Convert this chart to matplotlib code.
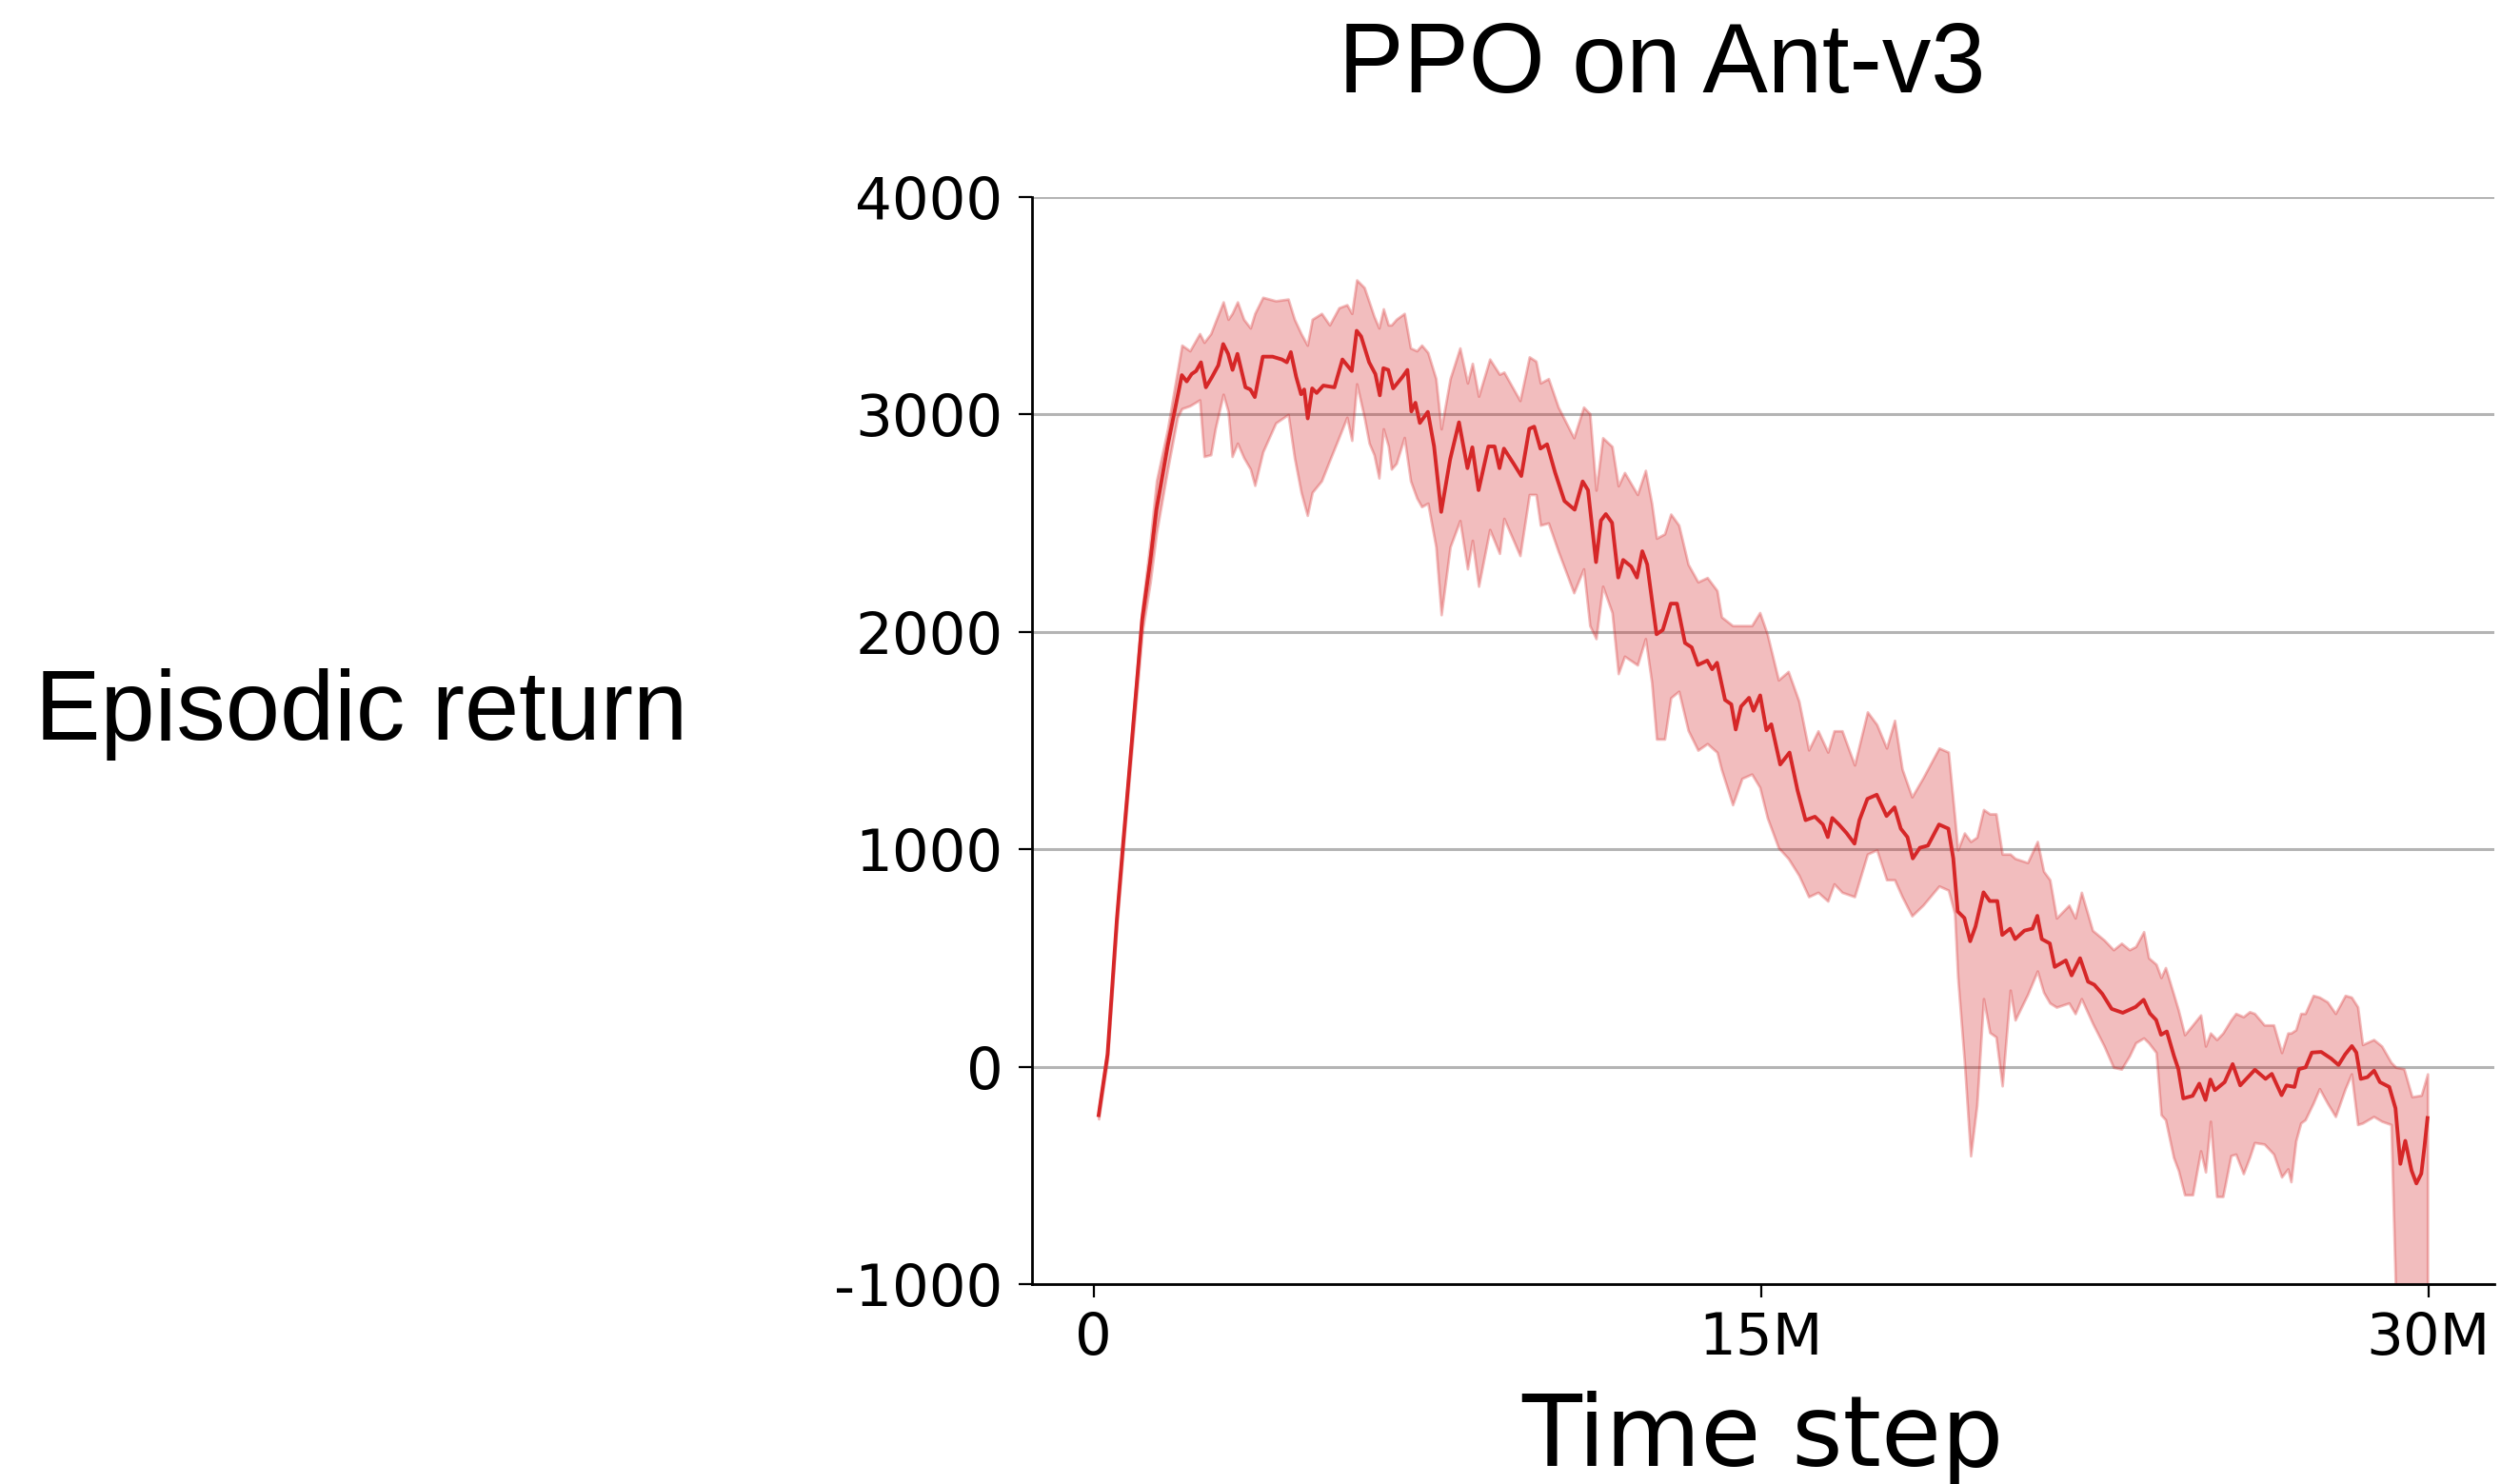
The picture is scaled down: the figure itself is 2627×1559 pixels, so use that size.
import matplotlib
matplotlib.use("Agg")
import matplotlib.pyplot as plt
import numpy as np

# mean episodic return (time step in millions)
mean_t = [0.11, 0.31, 0.52, 0.66, 0.88, 1.09, 1.27, 1.41, 1.66, 1.88, 1.98, 2.09, 2.20, 2.30, 2.41,
          2.52, 2.66, 2.80, 2.91, 3.02, 3.12, 3.23, 3.41, 3.52, 3.62, 3.80, 4.02, 4.23, 4.34, 4.43,
          4.55, 4.66, 4.73, 4.81, 4.91, 5.01, 5.16, 5.41, 5.59, 5.80, 5.91, 6.01, 6.19, 6.33, 6.43,
          6.51, 6.62, 6.73, 6.94, 7.05, 7.14, 7.23, 7.33, 7.51, 7.65, 7.81, 8.01, 8.21, 8.40, 8.51,
          8.65, 8.87, 9.01, 9.12, 9.22, 9.44, 9.61, 9.79, 9.90, 10.04, 10.19, 10.37, 10.58, 10.81,
          10.99, 11.11, 11.29, 11.40, 11.51, 11.65, 11.79, 11.90, 12.08, 12.21, 12.33, 12.44, 12.65,
          12.79, 12.97, 13.11, 13.29, 13.44, 13.58, 13.79, 13.90, 14.01, 14.19, 14.33, 14.43, 14.55,
          14.73, 14.83, 14.98, 15.12, 15.23, 15.43, 15.64, 15.82, 16.00, 16.21, 16.39, 16.50, 16.60,
          16.75, 16.92, 17.10, 17.21, 17.39, 17.60, 17.82, 18.00, 18.14, 18.29, 18.41, 18.57, 18.75,
          19.00, 19.21, 19.32, 19.42, 19.57, 19.70, 19.82, 20.00, 20.14, 20.31, 20.42, 20.60, 20.71,
          20.92, 21.10, 21.21, 21.31, 21.49, 21.60, 21.85, 21.98, 22.17, 22.35, 22.49, 22.67, 22.88,
          23.13, 23.42, 23.60, 23.74, 23.88, 23.99, 24.12, 24.28, 24.38, 24.49, 24.70, 24.85, 24.99,
          25.10, 25.20, 25.42, 25.60, 25.77, 26.10, 26.34, 26.48, 26.70, 26.81, 26.99, 27.09, 27.24,
          27.38, 27.59, 27.81, 27.98, 28.13, 28.28, 28.38, 28.48, 28.63, 28.78, 28.91, 29.12, 29.26,
          29.37, 29.48, 29.62, 29.73, 29.84, 29.91, 29.98]
mean_ret = [-223, 56, 679, 1024, 1555, 2059, 2324, 2563, 2855, 3080, 3181, 3152, 3186, 3200, 3240,
            3125, 3173, 3226, 3324, 3279, 3205, 3279, 3125, 3115, 3080, 3266, 3266, 3253, 3240, 3287,
            3173, 3093, 3115, 2982, 3120, 3099, 3133, 3125, 3253, 3200, 3385, 3359, 3240, 3186, 3088,
            3213, 3205, 3120, 3173, 3205, 3014, 3054, 2961, 3012, 2853, 2552, 2793, 2964, 2753, 2849,
            2652, 2853, 2853, 2753, 2843, 2773, 2717, 2934, 2944, 2843, 2863, 2733, 2602, 2562,
            2692, 2652, 2321, 2512, 2542, 2502, 2250, 2331, 2301, 2250, 2371, 2311, 1989,
            2009, 2130, 2130, 1949, 1929, 1848, 1868, 1828, 1858, 1687, 1667, 1551, 1657,
            1697, 1637, 1708, 1547, 1575, 1390, 1445, 1271, 1134, 1150, 1114, 1056, 1144,
            1114, 1075, 1026, 1134, 1232, 1251, 1153, 1193, 1095, 1056, 958, 1007, 1017,
            1114, 1095, 958, 714, 684, 577, 645, 802, 762, 762, 606, 635, 587,
            626, 635, 694, 587, 567, 459, 489, 420, 499, 391, 377, 335, 266,
            248, 275, 308, 245, 215, 147, 162, 50, -11, -146, -134, -78, -153,
            -59, -108, -71, 12, -86, -14, -56, -33, -131, -86, -93, -11, -3,
            65, 68, 38, 8, 57, 95, 65, -56, -48, -18, -71, -93, -191,
            -447, -341, -477, -537, -492, -371, -236]

# shaded band (upper / lower)
band_t = [0.11, 0.31, 0.52, 0.66, 0.88, 1.09, 1.27, 1.41, 1.66, 1.88, 1.98, 2.16, 2.38, 2.48, 2.63,
          2.73, 2.91, 3.02, 3.11, 3.23, 3.37, 3.52, 3.62, 3.80, 4.09, 4.37, 4.51, 4.66, 4.80, 4.91,
          5.12, 5.30, 5.51, 5.69, 5.80, 5.91, 6.08, 6.19, 6.30, 6.41, 6.51, 6.62, 6.69, 6.80, 6.98,
          7.12, 7.26, 7.37, 7.51, 7.69, 7.81, 8.01, 8.23, 8.40, 8.51, 8.65, 8.90, 9.12, 9.22, 9.58,
          9.79, 9.94, 10.04, 10.22, 10.44, 10.79, 11.01, 11.15, 11.29, 11.44, 11.65, 11.79, 11.93,
          12.22, 12.40, 12.54, 12.65, 12.83, 12.97, 13.15, 13.36, 13.58, 13.79, 14.01, 14.11, 14.36,
          14.57, 14.79, 14.97, 15.14, 15.39, 15.61, 15.85, 16.07, 16.28, 16.50, 16.64, 16.82, 17.10,
          17.39, 17.60, 17.82, 18.00, 18.17, 18.39, 18.64, 19.00, 19.21, 19.35, 19.42, 19.57, 19.71,
          19.85, 20.00, 20.14, 20.28, 20.42, 20.60, 20.71, 20.99, 21.21, 21.35, 21.49, 21.64, 21.92,
          22.06, 22.20, 22.45, 22.71, 22.92, 23.10, 23.28, 23.42, 23.60, 23.71, 23.88, 23.99, 24.09,
          24.27, 24.38, 24.52, 24.70, 24.88, 24.99, 25.10, 25.24, 25.38, 25.56, 25.67, 25.84, 25.98,
          26.09, 26.31, 26.52, 26.70, 26.84, 26.91, 27.02, 27.13, 27.23, 27.41, 27.55, 27.73, 27.91,
          28.13, 28.27, 28.41, 28.52, 28.77, 28.95, 29.16, 29.27, 29.45, 29.63, 29.84, 29.98]
band_hi = [-200, 80, 710, 1060, 1600, 2110, 2420, 2695, 2934, 3200, 3319, 3293, 3372, 3332, 3372,
           3425, 3518, 3438, 3465, 3518, 3438, 3398, 3465, 3539, 3523, 3531, 3438, 3372, 3319, 3438,
           3465, 3412, 3491, 3505, 3465, 3619, 3584, 3518, 3451, 3398, 3486, 3412, 3412, 3438, 3465,
           3306, 3293, 3319, 3285, 3165, 2934, 3165, 3306, 3145, 3235, 3084, 3255, 3185, 3195, 3064,
           3265, 3245, 3145, 3165, 3034, 2893, 3034, 3004, 2652, 2893, 2853, 2672, 2733,
           2632, 2743, 2592, 2431, 2451, 2542, 2491, 2311, 2230, 2250, 2190, 2069, 2029,
           2029, 2029, 2089, 1989, 1779, 1818, 1681, 1457, 1545, 1447, 1545, 1545, 1388,
           1632, 1574, 1466, 1593, 1369, 1241, 1329, 1466, 1447, 1153, 997, 1075, 1036,
           1056, 1183, 1163, 1163, 978, 978, 958, 939, 1036, 899, 860, 684, 743,
           684, 802, 627, 583, 538, 568, 538, 553, 621, 501, 471, 410, 456,
           335, 260, 147, 192, 238, 95, 155, 125, 155, 215, 245, 230, 253,
           245, 192, 192, 65, 155, 155, 170, 245, 245, 328, 320, 298, 245,
           328, 320, 275, 102, 125, 95, 20, -3, -10, -138, -131, -33]
band_lo = [-240, 30, 650, 990, 1510, 2000, 2230, 2457, 2749, 2987, 3027, 3040, 3067, 2807, 2815,
           2934, 3093, 3014, 2807, 2868, 2802, 2749, 2674, 2828, 2961, 3000, 2802, 2642, 2536, 2642,
           2695, 2788, 2894, 2987, 2881, 3141, 2987, 2868, 2815, 2708, 2934, 2855, 2749, 2775, 2894,
           2695, 2616, 2576, 2592, 2391, 2079, 2391, 2512, 2290, 2421, 2210, 2471, 2361, 2522, 2351,
           2632, 2632, 2491, 2501, 2371, 2180, 2290, 2029, 1969, 2210, 2089, 1808, 1888,
           1848, 1969, 1768, 1507, 1507, 1697, 1727, 1547, 1456, 1486, 1446, 1366, 1205,
           1326, 1346, 1285, 1145, 1007, 958, 880, 782, 802, 762, 841, 802, 782,
           978, 997, 860, 860, 782, 694, 743, 831, 812, 704, 411, 20, -410,
           -176, 313, 157, 137, -88, 352, 215, 332, 440, 342, 293, 274, 293,
           244, 313, 200, 95, -3, -11, 50, 110, 132, 110, 65, -221, -244,
           -417, -477, -589, -589, -387, -484, -251, -597, -597, -409, -402, -492, -417,
           -349, -356, -402, -507, -470, -529, -341, -259, -244, -168, -101, -168, -229,
           -101, -33, -266, -259, -229, -251, -266, -1100, -1200, -1200, -1200, -1100]

yticks = [-1000, 0, 1000, 2000, 3000, 4000]
ytick_labels = ["-1000", "0", "1000", "2000", "3000", "4000"]
xticks = [0, 15e6, 30e6]
xtick_labels = ["0", "15M", "30M"]

red = "#d62728"
helv = ["Liberation Sans", "DejaVu Sans"]

fig = plt.figure(figsize=(2627 / 200, 1559 / 200), dpi=200)
ax = fig.add_axes([0.4126, 0.1347, 0.5847, 0.7325])

x_mean = np.array(mean_t) * 1e6
x_band = np.array(band_t) * 1e6

ax.fill_between(x_band, band_lo, band_hi, color=red, alpha=0.3, linewidth=1.0, zorder=2)
ax.plot(x_mean, mean_ret, color=red, linewidth=1.4, zorder=3)

ax.set_xlim(-1.39e6, 31.48e6)
ax.set_ylim(-1000, 4000)

ax.set_yticks(yticks)
ax.set_yticklabels(ytick_labels)
ax.set_xticks(xticks)
ax.set_xticklabels(xtick_labels)
ax.tick_params(axis="both", labelsize=22, length=5, width=0.8, color="black")
ax.tick_params(axis="y", pad=6)
ax.tick_params(axis="x", pad=5)

# horizontal grid only
ax.yaxis.grid(True, color="#b4b4b4", linewidth=1.1, zorder=0)
ax.set_axisbelow(True)

for side in ["top", "right"]:
    ax.spines[side].set_visible(False)
ax.spines["left"].set_linewidth(1.0)
ax.spines["bottom"].set_linewidth(1.0)

ax.set_title("PPO on Ant-v3", fontsize=37, family=helv, x=0.431, y=1.096, pad=0)
ax.set_ylabel("Episodic return", fontsize=37, family=helv, rotation=0,
              ha="center", va="baseline")
ax.yaxis.set_label_coords(-0.4583, 0.501)
ax.set_xlabel("Time step", fontsize=37, va="baseline")
ax.xaxis.set_label_coords(0.5, -0.167)

fig.savefig("out.png", dpi=200)
